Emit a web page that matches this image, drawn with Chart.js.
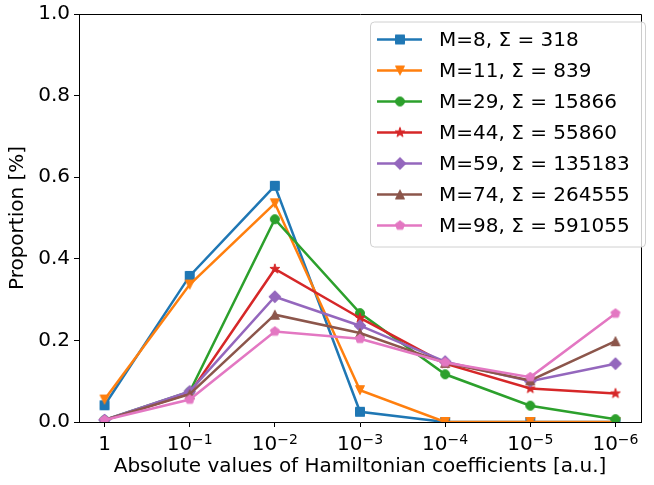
<!DOCTYPE html>
<html>
<head>
<meta charset="utf-8">
<script src="https://cdn.jsdelivr.net/npm/chart.js@4"></script>
<style>
  html, body { margin: 0; padding: 0; background: #fff; }
  #wrap { width: 654px; height: 485px; position: relative; }
</style>
</head>
<body>
<div id="wrap"><canvas id="chart"></canvas></div>
<script>
// x categories: magnitude of coefficients (base, exponent)
const categories = ['1', '10^-1', '10^-2', '10^-3', '10^-4', '10^-5', '10^-6'];
const yTicks = [0, 0.2, 0.4, 0.6, 0.8, 1.0];

// one array per series
const m8  = [0.041, 0.358, 0.579, 0.025, 0.000, 0.000, 0.000];
const m11 = [0.055, 0.337, 0.536, 0.078, 0.000, 0.000, 0.000];
const m29 = [0.005, 0.074, 0.497, 0.267, 0.117, 0.040, 0.007];
const m44 = [0.004, 0.070, 0.375, 0.255, 0.143, 0.082, 0.070];
const m59 = [0.005, 0.075, 0.307, 0.236, 0.148, 0.100, 0.143];
const m74 = [0.005, 0.068, 0.263, 0.218, 0.145, 0.102, 0.198];
const m98 = [0.005, 0.055, 0.222, 0.204, 0.146, 0.110, 0.266];

const seriesLabels = [
  'M=8, Σ = 318', 'M=11, Σ = 839', 'M=29, Σ = 15866', 'M=44, Σ = 55860',
  'M=59, Σ = 135183', 'M=74, Σ = 264555', 'M=98, Σ = 591055'
];
const seriesValues = [m8, m11, m29, m44, m59, m74, m98];
const seriesColors = ['#1f77b4', '#ff7f0e', '#2ca02c', '#d62728', '#9467bd', '#8c564b', '#e377c2'];
const seriesMarkers = ['s', 'v', 'o', '*', 'D', '^', 'p'];

const FONT = 'DejaVu Sans';
const MS = 9; // marker size in px

// build a small canvas for each matplotlib-like marker
function markerCanvas(shape, color) {
  const c = document.createElement('canvas');
  c.width = c.height = 18;
  const g = c.getContext('2d');
  g.translate(9, 9);
  g.fillStyle = color;
  g.strokeStyle = color;
  g.lineWidth = 1;
  const r = MS / 2;
  g.beginPath();
  if (shape === 's') {
    g.rect(-r, -r, 2 * r, 2 * r);
  } else if (shape === 'o') {
    g.arc(0, 0, r, 0, Math.PI * 2);
  } else if (shape === 'v') {
    g.moveTo(0, r); g.lineTo(-r, -r); g.lineTo(r, -r);
  } else if (shape === '^') {
    g.moveTo(0, -r); g.lineTo(-r, r); g.lineTo(r, r);
  } else if (shape === 'D') {
    const d = r * 1.35;
    g.moveTo(0, -d); g.lineTo(d, 0); g.lineTo(0, d); g.lineTo(-d, 0);
  } else if (shape === '*') {
    const ro = r * 1.15, ri = ro * 0.382;
    for (let k = 0; k < 10; k++) {
      const a = -Math.PI / 2 + k * Math.PI / 5;
      const rr = k % 2 ? ri : ro;
      g.lineTo(rr * Math.cos(a), rr * Math.sin(a));
    }
  } else if (shape === 'p') {
    const rp = r * 1.05;
    for (let k = 0; k < 5; k++) {
      const a = -Math.PI / 2 + k * 2 * Math.PI / 5;
      g.lineTo(rp * Math.cos(a), rp * Math.sin(a));
    }
  }
  g.closePath();
  g.fill();
  g.stroke();
  return c;
}

const markerImgs = seriesMarkers.map((s, i) => markerCanvas(s, seriesColors[i]));

const datasets = seriesValues.map((vals, i) => ({
  label: seriesLabels[i],
  data: vals.map((v, j) => ({ x: j, y: v })),
  borderColor: seriesColors[i],
  backgroundColor: seriesColors[i],
  borderWidth: 2.5,
  pointStyle: markerImgs[i],
  pointRadius: 5,
  tension: 0,
  clip: 0,
  order: seriesValues.length - i
}));

// frame on top/right, mathtext-like x labels, legend box inside the axes
const framePlugin = {
  id: 'frame',
  afterDraw(chart) {
    const { ctx, chartArea: a } = chart;
    ctx.save();
    ctx.strokeStyle = '#000';
    ctx.lineWidth = 1;
    ctx.beginPath();
    ctx.moveTo(Math.round(a.left) + 0.5, Math.round(a.top) + 0.5);
    ctx.lineTo(Math.round(a.right) + 0.5, Math.round(a.top) + 0.5);
    ctx.lineTo(Math.round(a.right) + 0.5, Math.round(a.bottom) + 0.5);
    ctx.stroke();

    // x tick labels with superscript exponent
    const xs = chart.scales.x;
    const base = 450;
    ctx.fillStyle = '#000';
    ctx.textBaseline = 'alphabetic';
    ctx.textAlign = 'left';
    categories.forEach((lab, i) => {
      const px = xs.getPixelForValue(i);
      const parts = lab.split('^');
      ctx.font = '20px "' + FONT + '"';
      const w1 = ctx.measureText(parts[0]).width;
      let w2 = 0, sup = '';
      if (parts.length > 1) {
        sup = parts[1].replace('-', '\u2212');
        ctx.font = '14px "' + FONT + '"';
        w2 = ctx.measureText(sup).width;
      }
      const x0 = px - (w1 + w2) / 2;
      ctx.font = '20px "' + FONT + '"';
      ctx.fillText(parts[0], x0, base);
      if (sup) {
        ctx.font = '14px "' + FONT + '"';
        ctx.fillText(sup, x0 + w1, base - 6);
      }
    });

    // legend
    const bx = 370, by = 21.5, bw = 275, bh = 225;
    ctx.fillStyle = 'rgba(255,255,255,0.8)';
    ctx.strokeStyle = '#d0d0d0';
    ctx.lineWidth = 1;
    ctx.beginPath();
    ctx.roundRect(bx + 0.5, by + 0.5, bw, bh, 4);
    ctx.fill();
    ctx.stroke();
    ctx.font = '20px "' + FONT + '"';
    ctx.textBaseline = 'middle';
    ctx.textAlign = 'left';
    seriesLabels.forEach((lab, i) => {
      const y = 39.5 + i * 31;
      ctx.strokeStyle = seriesColors[i];
      ctx.lineWidth = 2.5;
      ctx.beginPath();
      ctx.moveTo(377, y);
      ctx.lineTo(422, y);
      ctx.stroke();
      ctx.drawImage(markerImgs[i], 400 - 9, y - 9);
      ctx.fillStyle = '#000';
      ctx.fillText(lab, 439, y + 1);
    });
    ctx.restore();
  }
};

new Chart(document.getElementById('chart'), {
  type: 'line',
  data: { datasets },
  plugins: [framePlugin],
  options: {
    responsive: true,
    maintainAspectRatio: false,
    animation: false,
    layout: { padding: { top: 11, right: 13, left: 0, bottom: 0 } },
    plugins: { legend: { display: false }, tooltip: { enabled: false } },
    scales: {
      x: {
        type: 'linear',
        min: -0.3,
        max: 6.3,
        afterBuildTicks: s => { s.ticks = categories.map((c, i) => ({ value: i })); },
        afterFit: s => { s.height = 63; },
        ticks: {
          color: '#000',
          padding: 3,
          maxRotation: 0,
          autoSkip: false,
          font: { family: FONT, size: 20, lineHeight: 1 },
          callback: () => '' // drawn by the plugin with superscripts
        },
        grid: { drawOnChartArea: false, drawTicks: true, tickLength: 5, color: '#000' },
        border: { display: true, color: '#000', width: 1 },
        title: {
          display: true,
          text: 'Absolute values of Hamiltonian coefficients [a.u.]',
          color: '#000',
          font: { family: FONT, size: 20 },
          padding: { top: 0, bottom: 6 }
        }
      },
      y: {
        min: 0,
        max: 1,
        afterBuildTicks: s => { s.ticks = yTicks.map(v => ({ value: v })); },
        afterFit: s => { s.width = 79; },
        ticks: {
          color: '#000',
          padding: 4,
          font: { family: FONT, size: 20, lineHeight: 1 },
          callback: v => v.toFixed(1)
        },
        grid: { drawOnChartArea: false, drawTicks: true, tickLength: 5, color: '#000' },
        border: { display: true, color: '#000', width: 1 },
        title: {
          display: true,
          text: 'Proportion [%]',
          color: '#000',
          font: { family: FONT, size: 20 },
          padding: { top: 6, bottom: 0 }
        }
      }
    }
  }
});
</script>
</body>
</html>
